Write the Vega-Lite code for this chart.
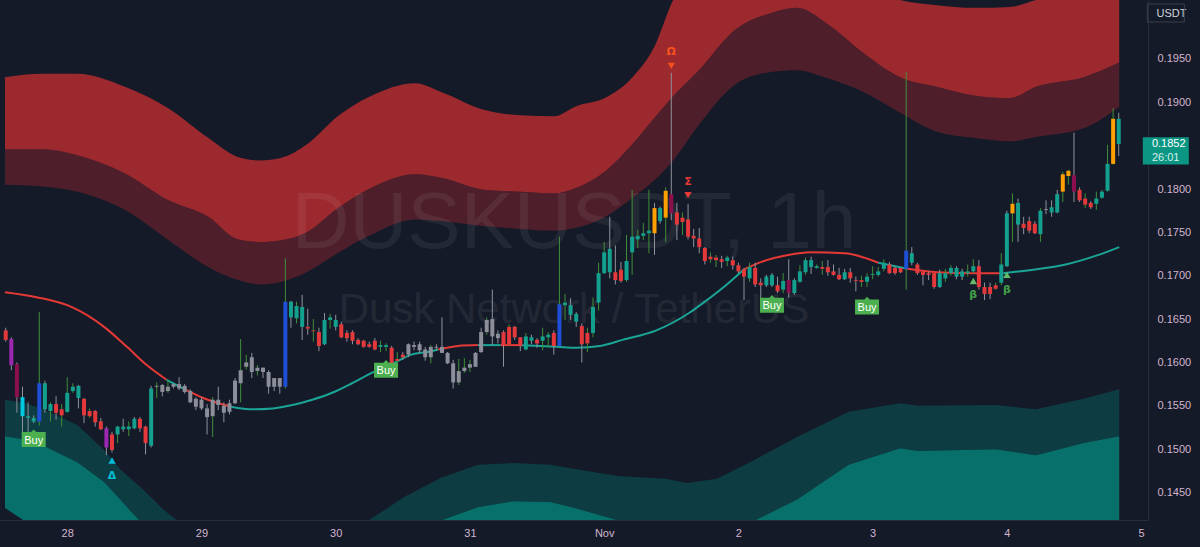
{
"$schema": "https://vega.github.io/schema/vega-lite/v6.json",
"width": 1148,
"height": 520,
"autosize": {"type": "none"},
"padding": {"left": 0, "top": 0, "right": 52, "bottom": 27},
"background": "#151a28",
"config": {"view": {"stroke": null}, "axis": {"grid": false, "ticks": false, "labelFont": "Liberation Sans", "labelFontSize": 11, "labelColor": "#d2b5cf", "domainColor": "#2a2e39"}},
"datasets": {
"one": [{}],
"upper": [
{"t":-11.13,"a":0.1929,"b":0.1846,"c":0.1805},{"t":-4.57,"a":0.1933,"b":0.1846,"c":0.1803},{"t":1.81,"a":0.1933,"b":0.1839,"c":0.1797},{"t":10.32,"a":0.1918,"b":0.1818,"c":0.1776},{"t":18.11,"a":0.1893,"b":0.1787,"c":0.1741},{"t":25.2,"a":0.1859,"b":0.1768,"c":0.171},{"t":30.52,"a":0.1837,"b":0.1742,"c":0.1695},{"t":34.42,"a":0.1833,"b":0.1739,"c":0.169},{"t":38.32,"a":0.1836,"b":0.1741,"c":0.1693},{"t":42.75,"a":0.1851,"b":0.175,"c":0.1704},{"t":48.6,"a":0.1885,"b":0.1779,"c":0.1727},{"t":53.92,"a":0.1906,"b":0.18,"c":0.1746},{"t":62.25,"a":0.1922,"b":0.1817,"c":0.1765},{"t":66.86,"a":0.1912,"b":0.1813,"c":0.1763},{"t":74.66,"a":0.1891,"b":0.1799,"c":0.1757},{"t":81.04,"a":0.1885,"b":0.1797,"c":0.1754},{"t":87.07,"a":0.1884,"b":0.1795,"c":0.1752},{"t":90.79,"a":0.1895,"b":0.1801,"c":0.1755},{"t":96.46,"a":0.1906,"b":0.1822,"c":0.1769},{"t":101.06,"a":0.1929,"b":0.1852,"c":0.179},{"t":104.97,"a":0.1964,"b":0.1882,"c":0.181},{"t":108.33,"a":0.2018,"b":0.1907,"c":0.1833},{"t":112.94,"a":0.2058,"b":0.1937,"c":0.1874},{"t":119.32,"a":0.2076,"b":0.1983,"c":0.192},{"t":125.88,"a":0.2081,"b":0.2003,"c":0.1935},{"t":130.49,"a":0.2076,"b":0.2009,"c":0.1937},{"t":135.8,"a":0.2058,"b":0.1991,"c":0.1928},{"t":142.36,"a":0.2035,"b":0.1957,"c":0.1912},{"t":148.92,"a":0.2018,"b":0.1929,"c":0.1888},{"t":155.48,"a":0.2012,"b":0.1918,"c":0.1866},{"t":162.03,"a":0.2009,"b":0.1908,"c":0.1859},{"t":168.59,"a":0.201,"b":0.1905,"c":0.1855},{"t":173.2,"a":0.2018,"b":0.1918,"c":0.186},{"t":181.71,"a":0.203,"b":0.1929,"c":0.187},{"t":188.09,"a":0.2035,"b":0.1946,"c":0.1895}
],
"lower": [
{"t":-11.13,"a":0.1557,"b":0.1515,"c":0.1432},{"t":-7.59,"a":0.1553,"b":0.1511,"c":0.1417},{"t":-4.57,"a":0.1547,"b":0.1505,"c":0.1389},{"t":1.81,"a":0.1528,"b":0.1485,"c":0.1372},{"t":6.59,"a":0.1499,"b":0.1462,"c":0.1372},{"t":9.61,"a":0.1476,"b":0.1441,"c":0.1372},{"t":13.68,"a":0.1453,"b":0.1412,"c":0.1372},{"t":17.22,"a":0.143,"b":0.1389,"c":0.1372},{"t":20.78,"a":0.1412,"b":0.1378,"c":0.1361},{"t":27.86,"a":0.1389,"b":0.1366,"c":0.1355},{"t":47.36,"a":0.1389,"b":0.1366,"c":0.1355},{"t":53.92,"a":0.1418,"b":0.1384,"c":0.1355},{"t":60.3,"a":0.1445,"b":0.1407,"c":0.1355},{"t":66.86,"a":0.1467,"b":0.1418,"c":0.1355},{"t":73.42,"a":0.1482,"b":0.1433,"c":0.1355},{"t":79.79,"a":0.1484,"b":0.144,"c":0.1355},{"t":86.35,"a":0.1482,"b":0.1439,"c":0.1355},{"t":90.79,"a":0.1477,"b":0.1432,"c":0.1355},{"t":98.4,"a":0.1469,"b":0.1418,"c":0.1355},{"t":106.91,"a":0.1466,"b":0.1412,"c":0.1355},{"t":110.81,"a":0.1461,"b":0.141,"c":0.1355},{"t":116.13,"a":0.1466,"b":0.1412,"c":0.1355},{"t":122.69,"a":0.1487,"b":0.1417,"c":0.1355},{"t":130.49,"a":0.1514,"b":0.1442,"c":0.1355},{"t":139.7,"a":0.1543,"b":0.1482,"c":0.1355},{"t":148.92,"a":0.1553,"b":0.1501,"c":0.1355},{"t":152.11,"a":0.155,"b":0.1498,"c":0.1355},{"t":165.94,"a":0.1551,"b":0.15,"c":0.1355},{"t":173.2,"a":0.1546,"b":0.1493,"c":0.1355},{"t":181.71,"a":0.1558,"b":0.1507,"c":0.1355},{"t":188.09,"a":0.1569,"b":0.1515,"c":0.1355}
],
"ma": [
{"t":-11.13,"v":0.1681,"s":"dn","g":1},{"t":-5.28,"v":0.1675,"s":"dn","g":1},{"t":0.74,"v":0.1664,"s":"dn","g":1},{"t":6.59,"v":0.1641,"s":"dn","g":1},{"t":10.67,"v":0.1618,"s":"dn","g":1},{"t":14.21,"v":0.1597,"s":"dn","g":1},{"t":17.76,"v":0.158,"s":"dn","g":1},
{"t":17.76,"v":0.158,"s":"up","g":2},{"t":21.3,"v":0.1568,"s":"up","g":2},
{"t":21.3,"v":0.1568,"s":"dn","g":3},{"t":24.32,"v":0.1559,"s":"dn","g":3},{"t":29.28,"v":0.1549,"s":"dn","g":3},
{"t":29.28,"v":0.1549,"s":"up","g":4},{"t":33.18,"v":0.1546,"s":"up","g":4},{"t":36.73,"v":0.1547,"s":"up","g":4},{"t":40.27,"v":0.1551,"s":"up","g":4},{"t":43.82,"v":0.1557,"s":"up","g":4},{"t":47.36,"v":0.1565,"s":"up","g":4},{"t":50.91,"v":0.1576,"s":"up","g":4},{"t":54.45,"v":0.1588,"s":"up","g":4},{"t":58.0,"v":0.1598,"s":"up","g":4},{"t":61.54,"v":0.1609,"s":"up","g":4},{"t":65.09,"v":0.1613,"s":"up","g":4},{"t":66.33,"v":0.1615,"s":"up","g":4},
{"t":66.33,"v":0.1615,"s":"dn","g":5},{"t":69.87,"v":0.1619,"s":"dn","g":5},{"t":73.42,"v":0.162,"s":"dn","g":5},
{"t":73.42,"v":0.162,"s":"up","g":6},{"t":77.5,"v":0.162,"s":"up","g":6},
{"t":77.5,"v":0.162,"s":"dn","g":7},{"t":81.04,"v":0.162,"s":"dn","g":7},
{"t":81.04,"v":0.162,"s":"up","g":8},{"t":87.6,"v":0.1618,"s":"up","g":8},{"t":91.15,"v":0.1617,"s":"up","g":8},{"t":95.22,"v":0.1619,"s":"up","g":8},{"t":99.3,"v":0.1626,"s":"up","g":8},{"t":105.33,"v":0.1637,"s":"up","g":8},{"t":111.18,"v":0.1657,"s":"up","g":8},{"t":114.2,"v":0.1671,"s":"up","g":8},{"t":117.39,"v":0.1687,"s":"up","g":8},{"t":120.91,"v":0.1707,"s":"up","g":8},
{"t":120.91,"v":0.1707,"s":"dn","g":9},{"t":124.13,"v":0.1716,"s":"dn","g":9},{"t":128.91,"v":0.1724,"s":"dn","g":9},{"t":132.99,"v":0.1727,"s":"dn","g":9},{"t":139.01,"v":0.1726,"s":"dn","g":9},{"t":145.04,"v":0.1715,"s":"dn","g":9},
{"t":145.04,"v":0.1715,"s":"up","g":10},{"t":150.18,"v":0.1708,"s":"up","g":10},
{"t":150.18,"v":0.1708,"s":"dn","g":11},{"t":155.49,"v":0.1704,"s":"dn","g":11},{"t":162.05,"v":0.1703,"s":"dn","g":11},{"t":167.37,"v":0.1703,"s":"dn","g":11},
{"t":167.37,"v":0.1703,"s":"up","g":12},{"t":172.68,"v":0.1707,"s":"up","g":12},{"t":178.53,"v":0.1713,"s":"up","g":12},{"t":184.38,"v":0.1724,"s":"up","g":12},{"t":188.1,"v":0.1733,"s":"up","g":12}
],
"candles": [
{"t":-11,"o":0.1637,"h":0.164,"l":0.1624,"c":0.1626,"k":"R","w":"n"},
{"t":-10,"o":0.1627,"h":0.1629,"l":0.1591,"c":0.1597,"k":"P","w":"n"},
{"t":-9,"o":0.1598,"h":0.16,"l":0.1542,"c":0.156,"k":"M","w":"n"},
{"t":-8,"o":0.1538,"h":0.1572,"l":0.152,"c":0.156,"k":"C","w":"n"},
{"t":-7,"o":0.1536,"h":0.1554,"l":0.1514,"c":0.1538,"k":"T","w":"n"},
{"t":-6,"o":0.1532,"h":0.1539,"l":0.153,"c":0.1536,"k":"T","w":"n"},
{"t":-5,"o":0.1532,"h":0.1658,"l":0.1527,"c":0.1576,"k":"B","w":"g"},
{"t":-4,"o":0.1546,"h":0.1579,"l":0.1542,"c":0.1576,"k":"T","w":"n"},
{"t":-3,"o":0.1544,"h":0.1554,"l":0.1532,"c":0.1552,"k":"T","w":"g"},
{"t":-2,"o":0.1552,"h":0.1561,"l":0.1534,"c":0.1542,"k":"R","w":"n"},
{"t":-1,"o":0.1546,"h":0.1552,"l":0.1526,"c":0.1539,"k":"R","w":"g"},
{"t":0,"o":0.1543,"h":0.1583,"l":0.1542,"c":0.1565,"k":"T","w":"g"},
{"t":1,"o":0.1567,"h":0.1576,"l":0.1565,"c":0.1572,"k":"T","w":"g"},
{"t":2,"o":0.1559,"h":0.1574,"l":0.1547,"c":0.1573,"k":"T","w":"n"},
{"t":3,"o":0.1558,"h":0.1559,"l":0.153,"c":0.1539,"k":"R","w":"n"},
{"t":4,"o":0.1544,"h":0.1547,"l":0.1536,"c":0.1538,"k":"R","w":"g"},
{"t":5,"o":0.1544,"h":0.1545,"l":0.1526,"c":0.1531,"k":"R","w":"n"},
{"t":6,"o":0.1532,"h":0.1536,"l":0.1522,"c":0.1523,"k":"R","w":"n"},
{"t":7,"o":0.1524,"h":0.1526,"l":0.1493,"c":0.1502,"k":"P","w":"n"},
{"t":8,"o":0.1517,"h":0.152,"l":0.1496,"c":0.1499,"k":"R","w":"n"},
{"t":9,"o":0.1517,"h":0.1527,"l":0.1507,"c":0.1526,"k":"T","w":"g"},
{"t":10,"o":0.1523,"h":0.1535,"l":0.152,"c":0.1526,"k":"T","w":"n"},
{"t":11,"o":0.1523,"h":0.1532,"l":0.1515,"c":0.1526,"k":"T","w":"g"},
{"t":12,"o":0.1524,"h":0.1537,"l":0.1523,"c":0.1535,"k":"T","w":"n"},
{"t":13,"o":0.1535,"h":0.1537,"l":0.152,"c":0.1524,"k":"R","w":"n"},
{"t":14,"o":0.1526,"h":0.1527,"l":0.1494,"c":0.1507,"k":"R","w":"n"},
{"t":15,"o":0.1504,"h":0.1573,"l":0.1502,"c":0.157,"k":"T","w":"n"},
{"t":16,"o":0.1573,"h":0.1577,"l":0.1559,"c":0.1572,"k":"G","w":"g"},
{"t":17,"o":0.1574,"h":0.1575,"l":0.1561,"c":0.1566,"k":"G","w":"n"},
{"t":18,"o":0.1572,"h":0.158,"l":0.1565,"c":0.1567,"k":"G","w":"g"},
{"t":19,"o":0.1575,"h":0.1576,"l":0.157,"c":0.1572,"k":"G","w":"n"},
{"t":20,"o":0.1575,"h":0.1583,"l":0.1568,"c":0.157,"k":"G","w":"n"},
{"t":21,"o":0.1573,"h":0.1575,"l":0.1564,"c":0.1566,"k":"G","w":"n"},
{"t":22,"o":0.1567,"h":0.1569,"l":0.1553,"c":0.1554,"k":"G","w":"n"},
{"t":23,"o":0.1558,"h":0.156,"l":0.1545,"c":0.1549,"k":"G","w":"n"},
{"t":24,"o":0.1557,"h":0.156,"l":0.1545,"c":0.1547,"k":"G","w":"n"},
{"t":25,"o":0.1547,"h":0.1552,"l":0.1517,"c":0.1537,"k":"G","w":"n"},
{"t":26,"o":0.1538,"h":0.156,"l":0.1514,"c":0.1557,"k":"G","w":"g"},
{"t":27,"o":0.1557,"h":0.1572,"l":0.1545,"c":0.1551,"k":"G","w":"n"},
{"t":28,"o":0.155,"h":0.1554,"l":0.1531,"c":0.1542,"k":"G","w":"n"},
{"t":29,"o":0.1543,"h":0.1557,"l":0.154,"c":0.1553,"k":"G","w":"n"},
{"t":30,"o":0.1553,"h":0.1582,"l":0.1552,"c":0.1579,"k":"G","w":"n"},
{"t":31,"o":0.1576,"h":0.1627,"l":0.1554,"c":0.1591,"k":"G","w":"g"},
{"t":32,"o":0.1595,"h":0.1609,"l":0.1592,"c":0.16,"k":"G","w":"g"},
{"t":33,"o":0.1606,"h":0.1611,"l":0.1582,"c":0.1589,"k":"G","w":"n"},
{"t":34,"o":0.1594,"h":0.1597,"l":0.1585,"c":0.159,"k":"G","w":"g"},
{"t":35,"o":0.1594,"h":0.1594,"l":0.1582,"c":0.1589,"k":"G","w":"n"},
{"t":36,"o":0.1589,"h":0.1591,"l":0.1564,"c":0.1572,"k":"G","w":"n"},
{"t":37,"o":0.1582,"h":0.1582,"l":0.1567,"c":0.1572,"k":"G","w":"n"},
{"t":38,"o":0.1572,"h":0.1582,"l":0.1564,"c":0.1582,"k":"G","w":"n"},
{"t":39,"o":0.1572,"h":0.172,"l":0.157,"c":0.167,"k":"B","w":"g"},
{"t":40,"o":0.1652,"h":0.1671,"l":0.164,"c":0.167,"k":"T","w":"n"},
{"t":41,"o":0.1651,"h":0.167,"l":0.1645,"c":0.1665,"k":"T","w":"g"},
{"t":42,"o":0.1641,"h":0.1678,"l":0.1626,"c":0.1664,"k":"T","w":"n"},
{"t":43,"o":0.1641,"h":0.1662,"l":0.1632,"c":0.1639,"k":"R","w":"n"},
{"t":44,"o":0.1637,"h":0.165,"l":0.1624,"c":0.1636,"k":"R","w":"g"},
{"t":45,"o":0.1635,"h":0.164,"l":0.1613,"c":0.1619,"k":"R","w":"n"},
{"t":46,"o":0.1621,"h":0.1657,"l":0.162,"c":0.1649,"k":"T","w":"n"},
{"t":47,"o":0.1649,"h":0.1656,"l":0.1639,"c":0.1652,"k":"T","w":"g"},
{"t":48,"o":0.1641,"h":0.1655,"l":0.1637,"c":0.1649,"k":"T","w":"n"},
{"t":49,"o":0.1644,"h":0.1647,"l":0.1628,"c":0.1629,"k":"R","w":"n"},
{"t":50,"o":0.1634,"h":0.1637,"l":0.1624,"c":0.1628,"k":"R","w":"n"},
{"t":51,"o":0.1635,"h":0.1637,"l":0.1621,"c":0.1625,"k":"R","w":"n"},
{"t":52,"o":0.1626,"h":0.1628,"l":0.162,"c":0.1621,"k":"R","w":"n"},
{"t":53,"o":0.1625,"h":0.1626,"l":0.1617,"c":0.1618,"k":"R","w":"n"},
{"t":54,"o":0.1621,"h":0.1624,"l":0.1617,"c":0.1618,"k":"R","w":"n"},
{"t":55,"o":0.1625,"h":0.1628,"l":0.1614,"c":0.1615,"k":"R","w":"n"},
{"t":56,"o":0.1618,"h":0.1625,"l":0.1612,"c":0.162,"k":"T","w":"g"},
{"t":57,"o":0.1618,"h":0.1622,"l":0.1613,"c":0.162,"k":"T","w":"g"},
{"t":58,"o":0.1617,"h":0.1619,"l":0.1597,"c":0.1598,"k":"R","w":"n"},
{"t":59,"o":0.1604,"h":0.1612,"l":0.16,"c":0.1602,"k":"R","w":"g"},
{"t":60,"o":0.1609,"h":0.1612,"l":0.1603,"c":0.1606,"k":"R","w":"n"},
{"t":61,"o":0.1621,"h":0.1622,"l":0.1606,"c":0.1609,"k":"G","w":"n"},
{"t":62,"o":0.162,"h":0.1624,"l":0.1614,"c":0.1618,"k":"G","w":"n"},
{"t":63,"o":0.1621,"h":0.1624,"l":0.1611,"c":0.1614,"k":"G","w":"n"},
{"t":64,"o":0.1615,"h":0.1618,"l":0.1602,"c":0.1606,"k":"G","w":"n"},
{"t":65,"o":0.1618,"h":0.162,"l":0.1599,"c":0.1606,"k":"G","w":"g"},
{"t":66,"o":0.1618,"h":0.1621,"l":0.1614,"c":0.1617,"k":"G","w":"n"},
{"t":67,"o":0.1618,"h":0.1652,"l":0.1611,"c":0.1611,"k":"G","w":"n"},
{"t":68,"o":0.1611,"h":0.1612,"l":0.1598,"c":0.1599,"k":"G","w":"n"},
{"t":69,"o":0.1599,"h":0.1603,"l":0.157,"c":0.1577,"k":"G","w":"n"},
{"t":70,"o":0.1577,"h":0.1604,"l":0.1574,"c":0.159,"k":"G","w":"g"},
{"t":71,"o":0.159,"h":0.1605,"l":0.1588,"c":0.1594,"k":"G","w":"g"},
{"t":72,"o":0.1594,"h":0.1603,"l":0.1589,"c":0.1598,"k":"G","w":"g"},
{"t":73,"o":0.1595,"h":0.1612,"l":0.1595,"c":0.1611,"k":"G","w":"n"},
{"t":74,"o":0.1612,"h":0.164,"l":0.1611,"c":0.1635,"k":"G","w":"n"},
{"t":75,"o":0.1635,"h":0.1652,"l":0.1632,"c":0.1649,"k":"G","w":"g"},
{"t":76,"o":0.165,"h":0.1684,"l":0.162,"c":0.163,"k":"G","w":"n"},
{"t":77,"o":0.1633,"h":0.1637,"l":0.1622,"c":0.1628,"k":"G","w":"n"},
{"t":78,"o":0.1635,"h":0.1637,"l":0.1595,"c":0.162,"k":"R","w":"n"},
{"t":79,"o":0.1641,"h":0.1644,"l":0.162,"c":0.1621,"k":"R","w":"g"},
{"t":80,"o":0.1641,"h":0.1642,"l":0.1626,"c":0.1629,"k":"R","w":"n"},
{"t":81,"o":0.1629,"h":0.1629,"l":0.1613,"c":0.1619,"k":"R","w":"n"},
{"t":82,"o":0.1615,"h":0.1634,"l":0.1614,"c":0.163,"k":"T","w":"g"},
{"t":83,"o":0.1625,"h":0.1632,"l":0.1621,"c":0.1629,"k":"T","w":"n"},
{"t":84,"o":0.1626,"h":0.1628,"l":0.1617,"c":0.1622,"k":"R","w":"n"},
{"t":85,"o":0.1625,"h":0.164,"l":0.1614,"c":0.163,"k":"T","w":"g"},
{"t":86,"o":0.1629,"h":0.1635,"l":0.1617,"c":0.1632,"k":"T","w":"g"},
{"t":87,"o":0.1634,"h":0.1637,"l":0.1609,"c":0.1619,"k":"R","w":"n"},
{"t":88,"o":0.1619,"h":0.1745,"l":0.1618,"c":0.1667,"k":"B","w":"g"},
{"t":89,"o":0.1666,"h":0.1679,"l":0.1649,"c":0.1669,"k":"T","w":"g"},
{"t":90,"o":0.1655,"h":0.1674,"l":0.1649,"c":0.1666,"k":"T","w":"n"},
{"t":91,"o":0.1647,"h":0.1658,"l":0.1641,"c":0.1656,"k":"T","w":"n"},
{"t":92,"o":0.1642,"h":0.1645,"l":0.16,"c":0.1621,"k":"R","w":"n"},
{"t":93,"o":0.1634,"h":0.164,"l":0.1612,"c":0.1622,"k":"R","w":"g"},
{"t":94,"o":0.1634,"h":0.1675,"l":0.1629,"c":0.1664,"k":"T","w":"g"},
{"t":95,"o":0.1669,"h":0.1715,"l":0.166,"c":0.1703,"k":"T","w":"g"},
{"t":96,"o":0.1703,"h":0.1739,"l":0.1702,"c":0.1727,"k":"T","w":"g"},
{"t":97,"o":0.1704,"h":0.1768,"l":0.1697,"c":0.1731,"k":"T","w":"n"},
{"t":98,"o":0.1704,"h":0.1735,"l":0.169,"c":0.1695,"k":"R","w":"n"},
{"t":99,"o":0.1707,"h":0.1716,"l":0.1692,"c":0.1694,"k":"R","w":"n"},
{"t":100,"o":0.1695,"h":0.1747,"l":0.1693,"c":0.1717,"k":"T","w":"g"},
{"t":101,"o":0.1727,"h":0.1799,"l":0.1701,"c":0.1745,"k":"T","w":"g"},
{"t":102,"o":0.1742,"h":0.1753,"l":0.1732,"c":0.1746,"k":"T","w":"g"},
{"t":103,"o":0.1746,"h":0.1761,"l":0.1741,"c":0.1749,"k":"T","w":"g"},
{"t":104,"o":0.1749,"h":0.1799,"l":0.1726,"c":0.1752,"k":"T","w":"g"},
{"t":105,"o":0.1749,"h":0.1784,"l":0.1724,"c":0.1778,"k":"O","w":"n"},
{"t":106,"o":0.1763,"h":0.178,"l":0.176,"c":0.1778,"k":"T","w":"n"},
{"t":107,"o":0.1767,"h":0.1802,"l":0.1739,"c":0.1798,"k":"O","w":"g"},
{"t":108,"o":0.1794,"h":0.1934,"l":0.1764,"c":0.1772,"k":"M","w":"n"},
{"t":109,"o":0.1773,"h":0.1784,"l":0.1741,"c":0.1759,"k":"R","w":"n"},
{"t":110,"o":0.1767,"h":0.1773,"l":0.1747,"c":0.1762,"k":"R","w":"g"},
{"t":111,"o":0.1765,"h":0.1783,"l":0.1742,"c":0.1745,"k":"R","w":"n"},
{"t":112,"o":0.1746,"h":0.1754,"l":0.1733,"c":0.1743,"k":"R","w":"n"},
{"t":113,"o":0.1743,"h":0.1755,"l":0.1726,"c":0.1733,"k":"R","w":"n"},
{"t":114,"o":0.1732,"h":0.1733,"l":0.1713,"c":0.1717,"k":"R","w":"n"},
{"t":115,"o":0.1722,"h":0.1727,"l":0.1715,"c":0.1719,"k":"R","w":"g"},
{"t":116,"o":0.1721,"h":0.1724,"l":0.171,"c":0.1718,"k":"R","w":"g"},
{"t":117,"o":0.1719,"h":0.1723,"l":0.1709,"c":0.1716,"k":"R","w":"n"},
{"t":118,"o":0.1717,"h":0.1723,"l":0.1711,"c":0.1721,"k":"T","w":"g"},
{"t":119,"o":0.1718,"h":0.1722,"l":0.1707,"c":0.1712,"k":"R","w":"n"},
{"t":120,"o":0.1712,"h":0.1715,"l":0.1703,"c":0.1705,"k":"R","w":"n"},
{"t":121,"o":0.1707,"h":0.1709,"l":0.1672,"c":0.1699,"k":"R","w":"n"},
{"t":122,"o":0.1697,"h":0.1715,"l":0.1693,"c":0.171,"k":"T","w":"g"},
{"t":123,"o":0.1709,"h":0.1715,"l":0.1687,"c":0.169,"k":"R","w":"n"},
{"t":124,"o":0.1692,"h":0.1697,"l":0.1674,"c":0.1689,"k":"R","w":"n"},
{"t":125,"o":0.1689,"h":0.1701,"l":0.1687,"c":0.1699,"k":"T","w":"n"},
{"t":126,"o":0.1689,"h":0.1703,"l":0.1687,"c":0.1701,"k":"T","w":"n"},
{"t":127,"o":0.1689,"h":0.1699,"l":0.168,"c":0.1682,"k":"R","w":"n"},
{"t":128,"o":0.1684,"h":0.1703,"l":0.168,"c":0.1694,"k":"T","w":"g"},
{"t":129,"o":0.1695,"h":0.1719,"l":0.1675,"c":0.168,"k":"M","w":"n"},
{"t":130,"o":0.168,"h":0.1697,"l":0.1678,"c":0.1695,"k":"T","w":"n"},
{"t":131,"o":0.1693,"h":0.1712,"l":0.1692,"c":0.1705,"k":"T","w":"g"},
{"t":132,"o":0.1704,"h":0.1721,"l":0.1701,"c":0.1718,"k":"T","w":"g"},
{"t":133,"o":0.171,"h":0.1722,"l":0.1702,"c":0.1718,"k":"T","w":"n"},
{"t":134,"o":0.1709,"h":0.1713,"l":0.1708,"c":0.1711,"k":"T","w":"g"},
{"t":135,"o":0.171,"h":0.1717,"l":0.1701,"c":0.1708,"k":"R","w":"g"},
{"t":136,"o":0.171,"h":0.1718,"l":0.17,"c":0.1704,"k":"R","w":"n"},
{"t":137,"o":0.1705,"h":0.1713,"l":0.17,"c":0.1701,"k":"R","w":"n"},
{"t":138,"o":0.1701,"h":0.1709,"l":0.1695,"c":0.1696,"k":"R","w":"n"},
{"t":139,"o":0.1696,"h":0.1708,"l":0.1695,"c":0.1704,"k":"T","w":"n"},
{"t":140,"o":0.1704,"h":0.1709,"l":0.1692,"c":0.1697,"k":"R","w":"n"},
{"t":141,"o":0.1695,"h":0.1699,"l":0.1682,"c":0.1694,"k":"R","w":"n"},
{"t":142,"o":0.1695,"h":0.17,"l":0.1687,"c":0.1693,"k":"R","w":"g"},
{"t":143,"o":0.1693,"h":0.1703,"l":0.1687,"c":0.1699,"k":"T","w":"g"},
{"t":144,"o":0.1701,"h":0.1711,"l":0.1696,"c":0.1702,"k":"T","w":"g"},
{"t":145,"o":0.1701,"h":0.171,"l":0.1699,"c":0.1705,"k":"T","w":"g"},
{"t":146,"o":0.1708,"h":0.1719,"l":0.1705,"c":0.1715,"k":"T","w":"g"},
{"t":147,"o":0.1713,"h":0.1716,"l":0.1702,"c":0.1703,"k":"R","w":"n"},
{"t":148,"o":0.1709,"h":0.1711,"l":0.1701,"c":0.1703,"k":"R","w":"n"},
{"t":149,"o":0.1709,"h":0.171,"l":0.1703,"c":0.1704,"k":"R","w":"n"},
{"t":150,"o":0.1708,"h":0.1935,"l":0.1684,"c":0.1729,"k":"B","w":"g"},
{"t":151,"o":0.1715,"h":0.1733,"l":0.1712,"c":0.1726,"k":"T","w":"n"},
{"t":152,"o":0.1713,"h":0.1715,"l":0.1701,"c":0.1703,"k":"R","w":"n"},
{"t":153,"o":0.1705,"h":0.1705,"l":0.1689,"c":0.1701,"k":"R","w":"n"},
{"t":154,"o":0.1703,"h":0.1705,"l":0.1695,"c":0.1701,"k":"R","w":"n"},
{"t":155,"o":0.1703,"h":0.1703,"l":0.1685,"c":0.1687,"k":"R","w":"n"},
{"t":156,"o":0.1687,"h":0.1707,"l":0.1686,"c":0.1703,"k":"T","w":"n"},
{"t":157,"o":0.1697,"h":0.1708,"l":0.1693,"c":0.1703,"k":"T","w":"g"},
{"t":158,"o":0.1703,"h":0.1712,"l":0.17,"c":0.1709,"k":"T","w":"g"},
{"t":159,"o":0.1699,"h":0.1711,"l":0.1696,"c":0.1709,"k":"T","w":"n"},
{"t":160,"o":0.1699,"h":0.1708,"l":0.1695,"c":0.1705,"k":"T","w":"n"},
{"t":161,"o":0.1703,"h":0.1713,"l":0.1699,"c":0.1705,"k":"T","w":"g"},
{"t":162,"o":0.1705,"h":0.1719,"l":0.1703,"c":0.1711,"k":"T","w":"g"},
{"t":163,"o":0.1711,"h":0.1718,"l":0.1684,"c":0.1687,"k":"R","w":"n"},
{"t":164,"o":0.1687,"h":0.1692,"l":0.1672,"c":0.1679,"k":"R","w":"n"},
{"t":165,"o":0.1687,"h":0.1692,"l":0.1673,"c":0.1679,"k":"R","w":"n"},
{"t":166,"o":0.1689,"h":0.1692,"l":0.1684,"c":0.1685,"k":"R","w":"g"},
{"t":167,"o":0.1692,"h":0.1726,"l":0.1689,"c":0.1713,"k":"T","w":"g"},
{"t":168,"o":0.1711,"h":0.1775,"l":0.171,"c":0.1772,"k":"T","w":"n"},
{"t":169,"o":0.1772,"h":0.1795,"l":0.1739,"c":0.1783,"k":"O","w":"g"},
{"t":170,"o":0.1759,"h":0.1789,"l":0.1739,"c":0.1784,"k":"T","w":"n"},
{"t":171,"o":0.176,"h":0.1768,"l":0.1748,"c":0.1755,"k":"R","w":"n"},
{"t":172,"o":0.1763,"h":0.1768,"l":0.1749,"c":0.1752,"k":"R","w":"n"},
{"t":173,"o":0.176,"h":0.1763,"l":0.1748,"c":0.1749,"k":"R","w":"n"},
{"t":174,"o":0.1748,"h":0.1778,"l":0.1739,"c":0.1775,"k":"T","w":"g"},
{"t":175,"o":0.1777,"h":0.1787,"l":0.1771,"c":0.1776,"k":"G","w":"n"},
{"t":176,"o":0.1773,"h":0.1787,"l":0.1768,"c":0.1779,"k":"T","w":"n"},
{"t":177,"o":0.1773,"h":0.1799,"l":0.1772,"c":0.1794,"k":"T","w":"n"},
{"t":178,"o":0.1797,"h":0.182,"l":0.1785,"c":0.1817,"k":"O","w":"g"},
{"t":179,"o":0.1815,"h":0.1822,"l":0.1805,"c":0.1821,"k":"O","w":"g"},
{"t":180,"o":0.1816,"h":0.1865,"l":0.1785,"c":0.1797,"k":"M","w":"n"},
{"t":181,"o":0.1799,"h":0.1802,"l":0.1785,"c":0.1787,"k":"R","w":"n"},
{"t":182,"o":0.1789,"h":0.1795,"l":0.1778,"c":0.1782,"k":"R","w":"g"},
{"t":183,"o":0.1784,"h":0.1786,"l":0.1777,"c":0.1779,"k":"R","w":"n"},
{"t":184,"o":0.1783,"h":0.1797,"l":0.1776,"c":0.1789,"k":"T","w":"g"},
{"t":185,"o":0.179,"h":0.1799,"l":0.1789,"c":0.1797,"k":"T","w":"g"},
{"t":186,"o":0.1798,"h":0.1851,"l":0.1797,"c":0.1829,"k":"T","w":"g"},
{"t":187,"o":0.1829,"h":0.1893,"l":0.1828,"c":0.1881,"k":"O","w":"g"},
{"t":188,"o":0.1881,"h":0.1888,"l":0.1838,"c":0.1852,"k":"T","w":"n"}
],
"buy": [{"t":-6,"p":0.1511},{"t":57,"p":0.1591},{"t":126,"p":0.1666},{"t":143,"p":0.1664}],
"signals": [
{"t":8,"tp":0.1487,"xp":0.1469,"sym":"Δ","d":"up","k":"cy"},
{"t":108,"tp":0.1942,"xp":0.1958,"sym":"Ω","d":"down","k":"om"},
{"t":111,"tp":0.1793,"xp":0.1808,"sym":"Σ","d":"down","k":"sg"},
{"t":162,"tp":0.1694,"xp":0.1678,"sym":"β","d":"up","k":"bt"},
{"t":168,"tp":0.1701,"xp":0.1684,"sym":"β","d":"up","k":"bt"}
]
},
"layer": [
{"data": {"name": "upper"}, "mark": {"type": "area", "clip": true, "interpolate": "monotone", "color": "#4e1f2b"},
 "encoding": {
  "x": {"field": "t", "type": "quantitative", "scale": {"domain": [-11.13, 192.34], "nice": false, "zero": false},
        "axis": {"title": null, "values": [0, 24, 48, 72, 96, 120, 144, 168, 192], "labelExpr": "datum.value == 96 ? 'Nov' : (datum.value < 96 ? '' + (28 + datum.value / 24) : '' + (1 + (datum.value - 96) / 24))", "labelPadding": 7, "labelFlush": false, "labelOverlap": false}},
  "y": {"field": "b", "type": "quantitative", "scale": {"domain": [0.14183, 0.2018], "nice": false, "zero": false},
        "axis": {"orient": "right", "title": "USDT", "titleAngle": 0, "titleX": 23, "titleY": 13, "titleAlign": "center", "titleBaseline": "middle", "titleFont": "Liberation Sans", "titleFontSize": 11, "titleFontWeight": "normal", "titleColor": "#d1d4dc", "values": [0.145, 0.15, 0.155, 0.16, 0.165, 0.17, 0.175, 0.18, 0.19, 0.195], "format": ".4f", "labelAlign": "left", "labelPadding": 9, "labelBaseline": "middle"}},
  "y2": {"field": "c"}
 }},
{"data": {"name": "upper"}, "mark": {"type": "area", "clip": true, "interpolate": "monotone", "color": "#9c292e"},
 "encoding": {"x": {"field": "t", "type": "quantitative"}, "y": {"field": "a", "type": "quantitative"}, "y2": {"field": "b"}}},
{"data": {"name": "lower"}, "mark": {"type": "area", "clip": true, "interpolate": "linear", "color": "#0d3c43"},
 "encoding": {"x": {"field": "t", "type": "quantitative"}, "y": {"field": "a", "type": "quantitative"}, "y2": {"field": "b"}}},
{"data": {"name": "lower"}, "mark": {"type": "area", "clip": true, "interpolate": "linear", "color": "#08706a"},
 "encoding": {"x": {"field": "t", "type": "quantitative"}, "y": {"field": "b", "type": "quantitative"}, "y2": {"field": "c"}}},
{"data": {"name": "one"}, "mark": {"type": "text", "text": "DUSKUSDT, 1h", "font": "Liberation Sans", "fontSize": 80, "align": "center", "baseline": "alphabetic", "color": "#ffffff", "opacity": 0.06},
 "encoding": {"x": {"datum": 90.61, "type": "quantitative"}, "y": {"datum": 0.1732, "type": "quantitative"}}},
{"data": {"name": "one"}, "mark": {"type": "text", "text": "Dusk Network / TetherUS", "font": "Liberation Sans", "fontSize": 42, "align": "center", "baseline": "alphabetic", "color": "#ffffff", "opacity": 0.06},
 "encoding": {"x": {"datum": 90.61, "type": "quantitative"}, "y": {"datum": 0.1645, "type": "quantitative"}}},
{"data": {"name": "ma"}, "mark": {"type": "line", "strokeWidth": 2, "interpolate": "monotone", "clip": true},
 "encoding": {"x": {"field": "t", "type": "quantitative"}, "y": {"field": "v", "type": "quantitative"},
  "color": {"field": "s", "type": "nominal", "scale": {"domain": ["dn", "up"], "range": ["#e53935", "#1aa596"]}, "legend": null},
  "detail": {"field": "g", "type": "nominal"}}},
{"data": {"name": "candles"}, "mark": {"type": "rule", "strokeWidth": 1, "clip": true},
 "encoding": {"x": {"field": "t", "type": "quantitative"}, "y": {"field": "l", "type": "quantitative"}, "y2": {"field": "h"},
  "color": {"field": "w", "type": "nominal", "scale": {"domain": ["g", "n"], "range": ["#3f8f3a", "#8f929b"]}, "legend": null}}},
{"data": {"name": "candles"}, "mark": {"type": "bar", "width": 4, "clip": true},
 "encoding": {"x": {"field": "t", "type": "quantitative"}, "y": {"field": "o", "type": "quantitative"}, "y2": {"field": "c"},
  "color": {"field": "k", "type": "nominal", "scale": {"domain": ["T", "R", "G", "B", "P", "M", "C", "O"], "range": ["#14a08f", "#e5383b", "#8c8f99", "#1f4fd6", "#9c27b0", "#8b0f4e", "#00c8e0", "#ffa000"]}, "legend": null}}},
{"data": {"name": "buy"}, "mark": {"type": "point", "shape": "M-1,-0.625L-0.22,-0.625L0,-0.85L0.22,-0.625L1,-0.625L1,0.625L-1,0.625Z", "size": 576, "filled": true, "color": "#4caf50", "opacity": 1},
 "encoding": {"x": {"field": "t", "type": "quantitative"}, "y": {"field": "p", "type": "quantitative"}}},
{"data": {"name": "buy"}, "mark": {"type": "text", "text": "Buy", "font": "Liberation Sans", "fontSize": 11, "color": "#ffffff", "baseline": "middle", "align": "center", "dy": 1},
 "encoding": {"x": {"field": "t", "type": "quantitative"}, "y": {"field": "p", "type": "quantitative"}}},
{"data": {"name": "signals"}, "mark": {"type": "point", "filled": true, "size": 55, "opacity": 1},
 "encoding": {"x": {"field": "t", "type": "quantitative"}, "y": {"field": "tp", "type": "quantitative"},
  "shape": {"field": "d", "type": "nominal", "scale": {"domain": ["up", "down"], "range": ["triangle-up", "triangle-down"]}, "legend": null},
  "color": {"field": "k", "type": "nominal", "scale": {"domain": ["cy", "om", "sg", "bt"], "range": ["#00bcd4", "#f4511e", "#e53935", "#66bb6a"]}, "legend": null}}},
{"data": {"name": "signals"}, "mark": {"type": "text", "font": "DejaVu Sans", "fontSize": 11, "baseline": "middle", "align": "center", "fontWeight": "bold"},
 "encoding": {"x": {"field": "t", "type": "quantitative"}, "y": {"field": "xp", "type": "quantitative"}, "text": {"field": "sym"},
  "color": {"field": "k", "type": "nominal", "scale": {"domain": ["cy", "om", "sg", "bt"], "range": ["#00bcd4", "#f4511e", "#e53935", "#43a047"]}, "legend": null}}},
{"data": {"name": "one"}, "mark": {"type": "point", "shape": "M-1,-0.587L1,-0.587L1,0.587L-1,0.587Z", "size": 2116, "filled": true, "color": "#0a9683", "opacity": 1},
 "encoding": {"x": {"datum": 196.42, "type": "quantitative"}, "y": {"datum": 0.1844, "type": "quantitative"}}},
{"data": {"name": "one"}, "mark": {"type": "text", "text": "0.1852", "font": "Liberation Sans", "fontSize": 11, "color": "#ffffff", "align": "left", "baseline": "middle"},
 "encoding": {"x": {"datum": 193.94, "type": "quantitative"}, "y": {"datum": 0.1852, "type": "quantitative"}}},
{"data": {"name": "one"}, "mark": {"type": "text", "text": "26:01", "font": "Liberation Sans", "fontSize": 11, "color": "#d8f0ec", "align": "left", "baseline": "middle"},
 "encoding": {"x": {"datum": 193.94, "type": "quantitative"}, "y": {"datum": 0.1836, "type": "quantitative"}}},
{"data": {"name": "one"}, "mark": {"type": "point", "shape": "M-1,-0.486L1,-0.486L1,0.486L-1,0.486Z", "size": 1369, "filled": false, "color": "#3b3f4b", "strokeWidth": 1, "opacity": 1},
 "encoding": {"x": {"datum": 196.42, "type": "quantitative"}, "y": {"datum": 0.2003, "type": "quantitative"}}}
],
"resolve": {"scale": {"color": "independent"}}
}
